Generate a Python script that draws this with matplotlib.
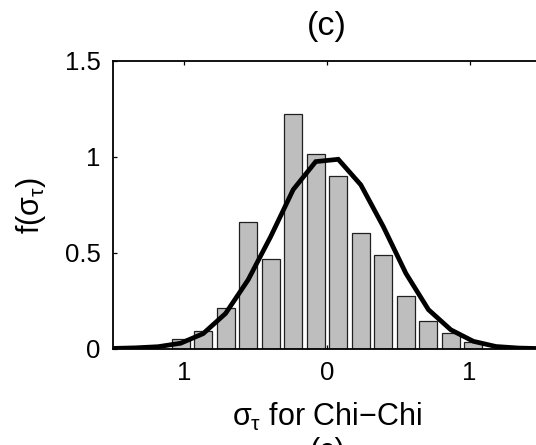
import matplotlib
matplotlib.use("Agg")
import matplotlib.pyplot as plt

plt.rcParams['font.family'] = ['Liberation Sans', 'DejaVu Sans']
plt.rcParams['mathtext.fontset'] = 'custom'
plt.rcParams['mathtext.rm'] = 'Liberation Sans'
plt.rcParams['mathtext.it'] = 'Liberation Sans'
plt.rcParams['mathtext.sf'] = 'Liberation Sans'

# histogram bins (centres) and normalised heights
bin_centers = [-1.026, -0.868, -0.711, -0.553, -0.395, -0.237, -0.079,
               0.079, 0.237, 0.395, 0.553, 0.711, 0.868, 1.026]
bin_heights = [0.05, 0.095, 0.213, 0.663, 0.468, 1.222, 1.014,
               0.899, 0.602, 0.491, 0.274, 0.146, 0.082, 0.038]

# fitted density curve
fit_x = [-1.500, -1.342, -1.184, -1.026, -0.868, -0.711, -0.553, -0.395,
         -0.237, -0.079, 0.079, 0.237, 0.395, 0.553, 0.711, 0.868,
         1.026, 1.184, 1.342, 1.500]
fit_y = [0.003, 0.006, 0.012, 0.03, 0.08, 0.185, 0.36, 0.585,
         0.83, 0.976, 0.988, 0.855, 0.637, 0.394, 0.205, 0.10,
         0.04, 0.013, 0.005, 0.002]

xticks = [-1, 0, 1]
xticklabels = ['1', '0', '1']
yticks = [0, 0.5, 1, 1.5]
yticklabels = ['0', '0.5', '1', '1.5']

fig = plt.figure(figsize=(5.36, 4.45), dpi=100)
ax = fig.add_axes([113/536, 1 - 349/445, (541 - 113)/536, (349 - 61)/445])

ax.bar(bin_centers, bin_heights, width=0.126, color='#bebebe',
       edgecolor='#202020', linewidth=0.9)
ax.plot(fit_x, fit_y, color='black', linewidth=3.4, solid_joinstyle='miter')

ax.set_xlim(-1.5, 1.5)
ax.set_ylim(0, 1.5)
ax.set_axisbelow(True)
ax.set_xticks(xticks)
ax.set_xticklabels(xticklabels)
ax.set_yticks(yticks)
ax.set_yticklabels(yticklabels)
ax.tick_params(direction='in', length=3, width=0.9, labelsize=18.5,
               top=True, right=True, pad=9)
for s in ax.spines.values():
    s.set_linewidth(1.3)

ax.set_xlabel(r'$\sigma_\tau$ for Chi$-$Chi', fontsize=22, labelpad=11)
ax.set_ylabel(r'f($\sigma_\tau$)', fontsize=22, labelpad=12)

fig.text(327/536, 1 - 11/445, '(c)', ha='center', va='top', fontsize=24.5)
# second panel label, cut off at the bottom edge
fig.text(327/536, 1 - 437/445, '(c)', ha='center', va='top', fontsize=22)

fig.savefig('out.png', dpi=100)
